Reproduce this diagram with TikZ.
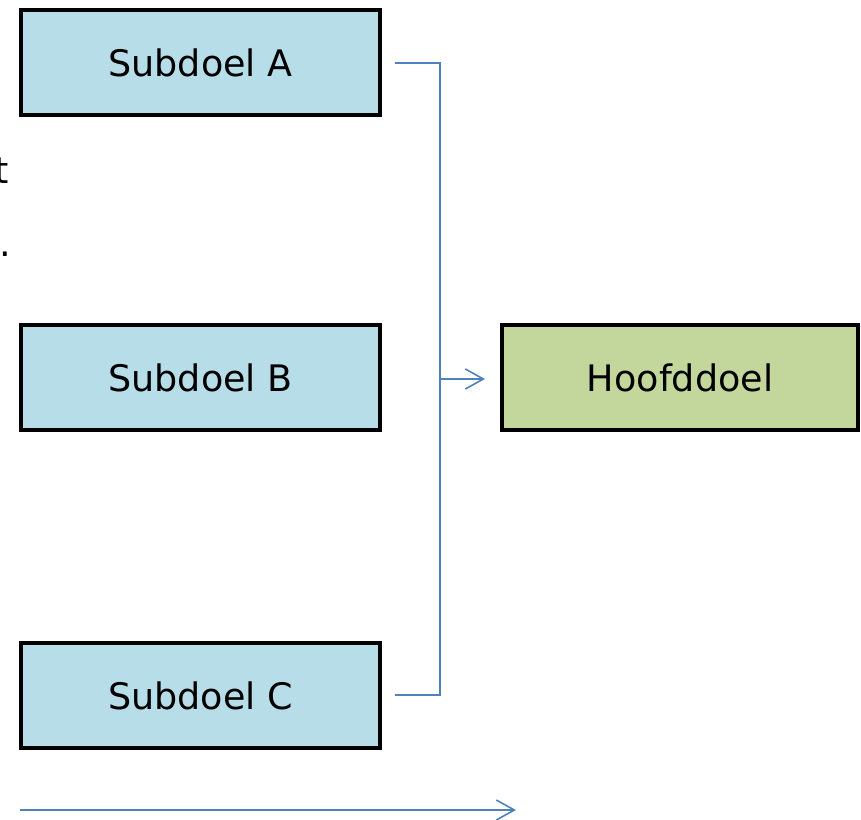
\documentclass[tikz,border=0pt]{standalone}
\usepackage{fontspec}
\setmainfont{DejaVu Sans}
\usetikzlibrary{arrows.meta}
\definecolor{subfill}{HTML}{B7DDE8}
\definecolor{mainfill}{HTML}{C3D69B}
\definecolor{conn}{HTML}{4F81BD}
\begin{document}
\begin{tikzpicture}[x=1pt,y=-1pt,
  goalbox/.style={draw=black,line width=4.5pt,minimum width=359pt,minimum height=105pt,inner sep=0pt,font=\fontsize{36.5}{40}\selectfont},
  subgoal/.style={goalbox,fill=subfill},
  maingoal/.style={goalbox,fill=mainfill,minimum width=356pt},
  link/.style={draw=conn,line width=1.6pt},
  tip/.style={-{Straight Barb[length=18pt,width=20pt,line width=1.6pt]}},
  frag/.style={anchor=base east,inner sep=0pt,font=\fontsize{36.5}{40}\selectfont}]
\useasboundingbox (0,0) rectangle (861,819);
\node[subgoal] (A) at (200.5,62.5) {Subdoel A};
\node[subgoal] (B) at (200.5,377.5) {Subdoel B};
\node[subgoal] (C) at (200.5,695.5) {Subdoel C};
\node[maingoal] (H) at (680,377.5) {Hoofddoel};
\node[frag] (f1) at (9,183) {t};
\node[frag] (f2) at (11,256) {.};
\coordinate (a1) at (395,63);
\coordinate (c1) at (395,695);
\coordinate (j) at (440,379);
\coordinate (h1) at (485,379);
\coordinate (s) at (20,810);
\coordinate (e) at (516,810);
\draw[link,line join=miter] (a1) -| (j) |- (c1);
\draw[link,tip] (j) -- (h1);
\draw[link,tip] (s) -- (e);
\end{tikzpicture}
\end{document}
